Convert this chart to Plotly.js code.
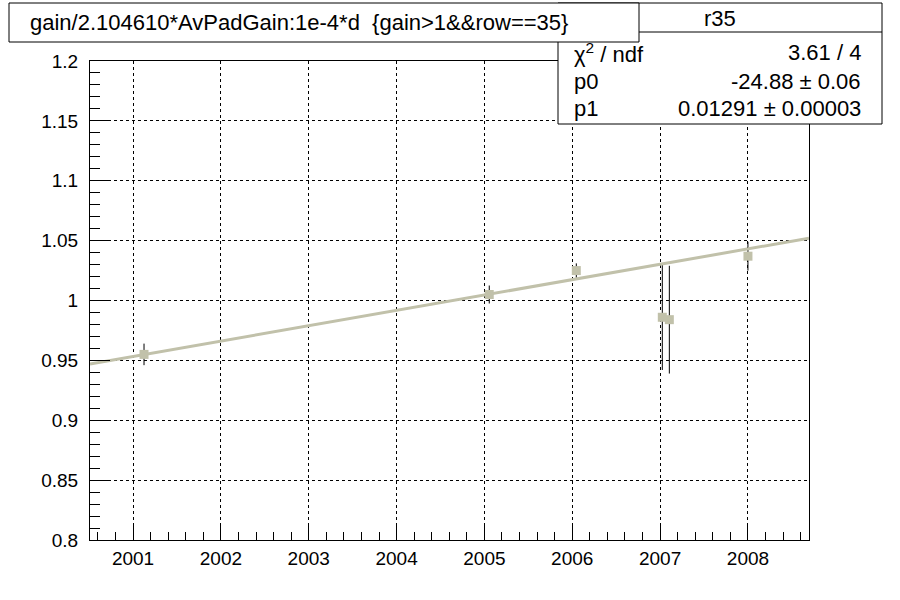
<!DOCTYPE html>
<html>
<head>
<meta charset="utf-8">
<script src="https://cdn.plot.ly/plotly-3.0.1.min.js"></script>
<style>html,body{margin:0;padding:0;background:#fff;}#plot{width:900px;height:600px;}</style>
</head>
<body>
<div id="plot"></div>
<script>
// ---- data ----
var pointX = [2001.125, 2005.055, 2006.046, 2007.025, 2007.105, 2008.0];
var pointY = [0.955, 1.005, 1.025, 0.986, 0.984, 1.037];
var pointErr = [0.009, 0.0075, 0.006, 0.044, 0.045, 0.012];
var fitX = [2000.51, 2008.695];
var fitY = [0.947, 1.052];
var xTickVals = [2001, 2002, 2003, 2004, 2005, 2006, 2007, 2008];
var xTickText = ['2001', '2002', '2003', '2004', '2005', '2006', '2007', '2008'];
var yTickVals = [0.8, 0.85, 0.9, 0.95, 1.0, 1.05, 1.1, 1.15, 1.2];
var yTickText = ['0.8', '0.85', '0.9', '0.95', '1', '1.05', '1.1', '1.15', '1.2'];
var titleText = 'gain/2.104610*AvPadGain:1e-4*d  {gain>1&&row==35}';
var statsName = 'r35';
var statsLabels = ['\u03c7<sup>2</sup> / ndf', 'p0', 'p1'];
var statsValues = ['3.61 / 4', '-24.88 \u00b1 0.06', '0.01291 \u00b1 0.00003'];

// ---- layout helpers (pixel -> paper) ----
var W = 900, H = 600, ML = 90, MR = 91, MT = 61, MB = 60;
var PW = W - ML - MR, PH = H - MT - MB;
function px(x) { return (x - ML) / PW; }
function py(y) { return 1 - (y - MT) / PH; }

var col = 'rgb(193,193,170)';
var font = 'Liberation Sans, Arial, Helvetica, sans-serif';

var traces = [
  {
    x: pointX, y: pointY, type: 'scatter', mode: 'markers',
    marker: {symbol: 'square', size: 9, color: col, line: {width: 0}},
    error_y: {type: 'data', array: pointErr, visible: true, color: '#000', thickness: 1, width: 0},
    hoverinfo: 'skip'
  },
  {
    x: fitX, y: fitY, type: 'scatter', mode: 'lines',
    line: {color: col, width: 3},
    hoverinfo: 'skip'
  }
];

var shapes = [
  {type: 'rect', xref: 'paper', yref: 'paper', layer: 'above',
   x0: px(558), x1: px(882), y0: py(3), y1: py(124),
   fillcolor: '#fff', line: {color: '#000', width: 1}},
  {type: 'line', xref: 'paper', yref: 'paper', layer: 'above',
   x0: px(558), x1: px(882), y0: py(32), y1: py(32),
   line: {color: '#000', width: 1}},
  {type: 'rect', xref: 'paper', yref: 'paper', layer: 'above',
   x0: px(9), x1: px(639), y0: py(3), y1: py(42),
   fillcolor: '#fff', line: {color: '#000', width: 1}}
];

var annotations = [
  {xref: 'paper', yref: 'paper', x: px(720), y: py(18), xanchor: 'center', yanchor: 'middle',
   text: statsName, showarrow: false, font: {family: font, size: 22, color: '#000'}}
];
var rowY = [53, 81.5, 109];
for (var i = 0; i < statsLabels.length; i++) {
  annotations.push({xref: 'paper', yref: 'paper', x: px(572), y: py(rowY[i]), xanchor: 'left', yanchor: 'middle',
    text: statsLabels[i], showarrow: false, font: {family: font, size: 22, color: '#000'}});
  annotations.push({xref: 'paper', yref: 'paper', x: px(863), y: py(rowY[i]), xanchor: 'right', yanchor: 'middle',
    text: statsValues[i], showarrow: false, font: {family: font, size: 22, color: '#000'}});
}

var layout = {
  width: W, height: H,
  margin: {l: ML, r: MR, t: MT, b: MB, pad: 0},
  paper_bgcolor: '#fff', plot_bgcolor: '#fff',
  showlegend: false, hovermode: false,
  title: {text: titleText, x: 30 / W, xanchor: 'left', xref: 'container', y: 1 - 22 / H, yanchor: 'middle', yref: 'container',
          font: {family: font, size: 22, color: '#000'}},
  xaxis: {
    range: [2000.51, 2008.695], tickmode: 'array', tickvals: xTickVals, ticktext: xTickText,
    ticks: 'inside', ticklen: 16, tickcolor: '#000', tickwidth: 1,
    showline: true, linecolor: '#000', linewidth: 1, mirror: true, zeroline: false,
    showgrid: true, gridcolor: '#000', gridwidth: 1, griddash: '3px,3px',
    tickfont: {family: font, size: 19, color: '#000'}, ticklabelstandoff: 1,
    minor: {tickmode: 'linear', tick0: 2000, dtick: 0.2, ticks: 'inside', ticklen: 8, tickcolor: '#000', showgrid: false}
  },
  yaxis: {
    range: [0.8, 1.2], tickmode: 'array', tickvals: yTickVals, ticktext: yTickText,
    ticks: 'inside', ticklen: 20, tickcolor: '#000', tickwidth: 1,
    showline: true, linecolor: '#000', linewidth: 1, mirror: true, zeroline: false,
    showgrid: true, gridcolor: '#000', gridwidth: 1, griddash: '3px,3px',
    tickfont: {family: font, size: 19, color: '#000'}, ticklabelstandoff: 7,
    minor: {tickmode: 'linear', tick0: 0.8, dtick: 0.01, ticks: 'inside', ticklen: 10, tickcolor: '#000', showgrid: false}
  },
  shapes: shapes,
  annotations: annotations
};

Plotly.newPlot('plot', traces, layout, {staticPlot: true, displayModeBar: false});
</script>
</body>
</html>
